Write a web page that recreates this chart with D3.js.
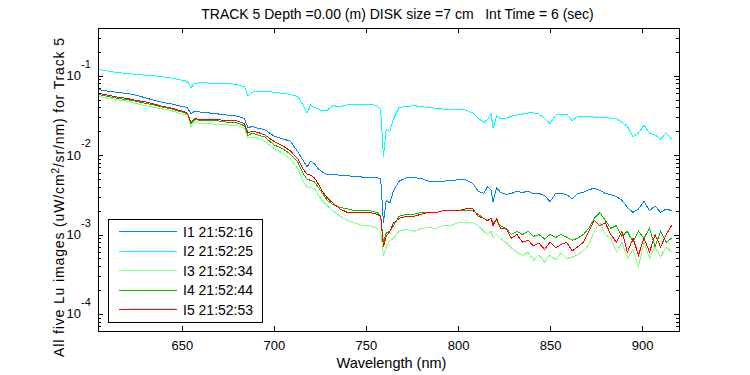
<!DOCTYPE html>
<html>
<head>
<meta charset="utf-8">
<script src="https://cdn.jsdelivr.net/npm/d3@7"></script>
<style>
  body { margin: 0; background: #fff; }
  svg text { font-family: Arial, "Liberation Sans", sans-serif; font-size: 13px; fill: #000; }
  .axis line { stroke: #000; shape-rendering: crispEdges; }
  .axis path.domain { display: none; }
  .spectrum { fill: none; stroke-width: 1; shape-rendering: crispEdges; }
</style>
</head>
<body>
<div id="chart"></div>
<script>
// wavelength grid (nm), shared by all five images
const wavelengths = [605, 610, 615, 620, 625, 630, 635, 640, 645, 650,
  653, 655, 657, 660, 665, 670, 675, 680, 684, 686, 688, 691, 695,
  700, 705, 709, 713, 716, 718, 720, 722, 724, 726, 729,
  732, 736, 740, 744, 748, 752, 756, 758, 759.5, 761, 763, 765, 768,
  772, 776, 780, 784, 788, 792, 796, 800, 804, 808, 811, 814, 816, 818, 819,
  821, 823, 826, 829, 832, 835, 838, 841, 844, 847, 850,
  853, 856, 859, 862, 865, 868, 871, 874, 877, 880,
  883, 886, 889, 892, 895, 898, 901, 904, 907, 910, 913, 916];

const seriesNames = ['I1 21:52:16', 'I2 21:52:25', 'I3 21:52:34', 'I4 21:52:44', 'I5 21:52:53'];
const seriesColors = ['#0080ff', '#00ffff', '#80ff80', '#00bf00', '#ff0000'];

const luI1 = [0.067, 0.064, 0.062, 0.060, 0.057, 0.053, 0.049, 0.046, 0.044, 0.041,
  0.040, 0.033, 0.036, 0.035, 0.034, 0.033, 0.032, 0.031, 0.029, 0.022, 0.023, 0.022, 0.021,
  0.0175, 0.016, 0.015, 0.011, 0.0085, 0.0071, 0.0084, 0.0078, 0.0068, 0.0062, 0.0057,
  0.0057, 0.0056, 0.0055, 0.0054, 0.0053, 0.0052, 0.0052, 0.0050, 0.0014, 0.0027, 0.0025, 0.0036, 0.0047,
  0.0052, 0.0052, 0.0051, 0.0047, 0.0046, 0.0047, 0.0048, 0.0049, 0.0049, 0.0044, 0.0035, 0.0033, 0.0040, 0.0036, 0.0026,
  0.0039, 0.0034, 0.0032, 0.0033, 0.0035, 0.0034, 0.0035, 0.0033, 0.0033, 0.0031, 0.0026,
  0.0033, 0.0033, 0.0032, 0.0028, 0.0033, 0.0034, 0.0037, 0.0038, 0.0036, 0.0033,
  0.0032, 0.0030, 0.0027, 0.0022, 0.0019, 0.0021, 0.0026, 0.0020, 0.0023, 0.0019, 0.0021, 0.0020];

const luI2 = [0.120, 0.115, 0.110, 0.107, 0.104, 0.102, 0.100, 0.097, 0.093, 0.088,
  0.085, 0.071, 0.080, 0.082, 0.081, 0.080, 0.080, 0.078, 0.073, 0.056, 0.062, 0.064, 0.064,
  0.062, 0.060, 0.058, 0.055, 0.042, 0.034, 0.043, 0.040, 0.038, 0.036, 0.037,
  0.042, 0.041, 0.043, 0.044, 0.044, 0.044, 0.042, 0.037, 0.0096, 0.021, 0.020, 0.029, 0.040,
  0.041, 0.042, 0.041, 0.040, 0.039, 0.038, 0.037, 0.038, 0.037, 0.034, 0.029, 0.026, 0.028, 0.033, 0.022,
  0.031, 0.029, 0.029, 0.031, 0.032, 0.033, 0.034, 0.034, 0.033, 0.029, 0.025,
  0.032, 0.033, 0.033, 0.027, 0.031, 0.031, 0.031, 0.030, 0.030, 0.030,
  0.029, 0.029, 0.026, 0.023, 0.017, 0.019, 0.024, 0.019, 0.018, 0.016, 0.019, 0.016];

const luI3 = [0.055, 0.052, 0.050, 0.048, 0.045, 0.042, 0.040, 0.038, 0.036, 0.033,
  0.032, 0.023, 0.026, 0.025, 0.025, 0.024, 0.024, 0.0235, 0.0218, 0.0166, 0.017, 0.0165, 0.015,
  0.0122, 0.0105, 0.0089, 0.0068, 0.0046, 0.0040, 0.0039, 0.0038, 0.0032, 0.0027, 0.0023,
  0.0020, 0.0017, 0.0015, 0.0014, 0.0013, 0.0013, 0.0012, 0.0011, 0.00054, 0.0007, 0.00083, 0.0009, 0.0011,
  0.00117, 0.0011, 0.0012, 0.00122, 0.0012, 0.0013, 0.0013, 0.0014, 0.0014, 0.0014, 0.0013, 0.0011, 0.0010, 0.0011, 0.0009,
  0.0010, 0.0009, 0.0008, 0.00068, 0.0006, 0.00055, 0.0006, 0.00048, 0.00055, 0.00045, 0.00055,
  0.00048, 0.00058, 0.0005, 0.00052, 0.00055, 0.00062, 0.00075, 0.0011, 0.0014, 0.0010,
  0.0009, 0.0006, 0.0008, 0.0005, 0.00065, 0.0004, 0.0008, 0.0005, 0.0007, 0.00052, 0.0007, 0.0006];

const luI4 = [0.058, 0.055, 0.052, 0.050, 0.048, 0.045, 0.043, 0.040, 0.038, 0.035,
  0.0335, 0.025, 0.028, 0.0275, 0.027, 0.027, 0.026, 0.0255, 0.0235, 0.0175, 0.019, 0.018, 0.017,
  0.0135, 0.012, 0.0103, 0.0082, 0.0058, 0.0050, 0.0048, 0.0046, 0.0040, 0.0034, 0.0027,
  0.0024, 0.0022, 0.0021, 0.0020, 0.0020, 0.0020, 0.0019, 0.0017, 0.00079, 0.00105, 0.0011, 0.0013, 0.0017,
  0.0018, 0.0018, 0.0019, 0.0019, 0.0019, 0.0020, 0.0020, 0.0020, 0.0020, 0.0020, 0.0018, 0.0016, 0.0015, 0.0016, 0.0014,
  0.0015, 0.0013, 0.0012, 0.0010, 0.0011, 0.0010, 0.0011, 0.00095, 0.0010, 0.00088, 0.0010,
  0.00092, 0.0010, 0.00093, 0.00085, 0.0009, 0.0010, 0.0012, 0.0016, 0.0019, 0.0015,
  0.0012, 0.0013, 0.00095, 0.0011, 0.0008, 0.0011, 0.0009, 0.0012, 0.0007, 0.0011, 0.0008, 0.0009];

const luI5 = [0.060, 0.057, 0.054, 0.052, 0.049, 0.047, 0.044, 0.041, 0.039, 0.036,
  0.034, 0.026, 0.029, 0.028, 0.028, 0.028, 0.027, 0.027, 0.025, 0.019, 0.020, 0.0195, 0.018,
  0.015, 0.013, 0.0113, 0.0090, 0.0066, 0.0058, 0.0056, 0.0052, 0.0044, 0.0036, 0.0029,
  0.0025, 0.0021, 0.0019, 0.0019, 0.0019, 0.0019, 0.0018, 0.0017, 0.00069, 0.00095, 0.0011, 0.0014, 0.0016,
  0.0017, 0.0017, 0.0018, 0.0019, 0.0019, 0.0020, 0.0020, 0.0020, 0.0021, 0.0021, 0.0017, 0.0016, 0.0015, 0.0016, 0.0013,
  0.0016, 0.0012, 0.0012, 0.0009, 0.0010, 0.0008, 0.00085, 0.00072, 0.00078, 0.00065, 0.00080,
  0.00068, 0.00075, 0.00080, 0.00062, 0.00070, 0.00080, 0.0011, 0.0015, 0.0013, 0.0014,
  0.0010, 0.0008, 0.0011, 0.0006, 0.0009, 0.00055, 0.0009, 0.0006, 0.0010, 0.0007, 0.0010, 0.0013];

const xTicks = [650, 700, 750, 800, 850, 900];
const yMajorTicks = [1e-4, 1e-3, 1e-2, 1e-1];

const titleText = 'TRACK 5 Depth =0.00 (m) DISK size =7 cm   Int Time = 6 (sec)';
const xLabelText = 'Wavelength (nm)';

const allSeries = [luI1, luI2, luI3, luI4, luI5];

const width = 750;
const height = 375;
const margin = { top: 28, right: 71, bottom: 44, left: 98 };

const svg = d3.select('#chart').append('svg')
  .attr('width', width)
  .attr('height', height);

const x = d3.scaleLinear()
  .domain([604.5, 920])
  .range([margin.left, width - margin.right]);

const y = d3.scaleLog()
  .domain([6.1e-5, 0.4])
  .range([height - margin.bottom, margin.top]);

// minor ticks 2..9 of every decade inside the domain
const yMinorTicks = [];
[-5, -4, -3, -2, -1].forEach((e) => {
  for (let m = 2; m <= 9; m++) {
    const v = m * Math.pow(10, e);
    if (v >= y.domain()[0] && v <= y.domain()[1]) yMinorTicks.push(v);
  }
});

svg.append('clipPath')
  .attr('id', 'plot-clip')
  .append('rect')
  .attr('x', margin.left)
  .attr('y', margin.top)
  .attr('width', width - margin.left - margin.right)
  .attr('height', height - margin.top - margin.bottom);

const line = d3.line()
  .x((d, i) => x(wavelengths[i]))
  .y((d) => y(d));

svg.append('g')
  .attr('clip-path', 'url(#plot-clip)')
  .selectAll('path.spectrum')
  .data(allSeries)
  .join('path')
  .attr('class', 'spectrum')
  .attr('stroke', (d, i) => seriesColors[i])
  .attr('d', line);

// axes, ticks pointing inward on all four sides
const bottom = height - margin.bottom;
const right = width - margin.right;

svg.append('g')
  .attr('class', 'axis')
  .attr('transform', `translate(0,${bottom})`)
  .call(d3.axisBottom(x).tickValues(xTicks).tickSizeInner(-5).tickSizeOuter(0).tickPadding(10))
  .call((g) => g.selectAll('text').attr('font-size', 13).attr('font-family', null));

svg.append('g')
  .attr('class', 'axis')
  .attr('transform', `translate(0,${margin.top})`)
  .call(d3.axisTop(x).tickValues(xTicks).tickSizeInner(-5).tickSizeOuter(0).tickFormat(''));

[[d3.axisLeft, margin.left], [d3.axisRight, right]].forEach(([axisFn, pos]) => {
  svg.append('g')
    .attr('class', 'axis')
    .attr('transform', `translate(${pos},0)`)
    .call(axisFn(y).tickValues(yMajorTicks).tickSizeInner(-5).tickSizeOuter(0).tickFormat(''));
  svg.append('g')
    .attr('class', 'axis')
    .attr('transform', `translate(${pos},0)`)
    .call(axisFn(y).tickValues(yMinorTicks).tickSizeInner(-3).tickSizeOuter(0).tickFormat(''));
});

svg.append('rect')
  .attr('x', margin.left + 0.5)
  .attr('y', margin.top + 0.5)
  .attr('width', right - margin.left)
  .attr('height', bottom - margin.top)
  .attr('fill', 'none')
  .attr('stroke', '#000')
  .attr('shape-rendering', 'crispEdges');

// y tick labels as 10^n
const yLabels = svg.append('g');
yMajorTicks.forEach((v) => {
  const ty = y(v);
  yLabels.append('text')
    .attr('x', 81)
    .attr('y', ty + 4.5)
    .attr('text-anchor', 'end')
    .text('10');
  yLabels.append('text')
    .attr('x', 81)
    .attr('y', ty - 8)
    .style('font-size', '11px')
    .text(`-${Math.round(-Math.log10(v))}`);
});

// title and axis labels
svg.append('text')
  .attr('x', 397.5)
  .attr('y', 18.5)
  .attr('text-anchor', 'middle')
  .style('white-space', 'pre')
  .style('font-size', '14px')
  .text(titleText);

svg.append('text')
  .attr('x', 391.5)
  .attr('y', 368)
  .attr('text-anchor', 'middle')
  .style('font-size', '14.5px')
  .text(xLabelText);

const yLabel = svg.append('text')
  .attr('transform', 'translate(64,197.5) rotate(-90)')
  .attr('text-anchor', 'middle')
  .attr('textLength', 319)
  .attr('lengthAdjust', 'spacing')
  .style('font-size', '14px');
yLabel.append('tspan').text('All five Lu images (uW/cm');
yLabel.append('tspan').attr('dy', -5).style('font-size', '10px').text('2');
yLabel.append('tspan').attr('dy', 5).text('/sr/nm) for Track 5');

// legend
const legend = svg.append('g');
legend.append('rect')
  .attr('x', 108.5)
  .attr('y', 219.5)
  .attr('width', 154)
  .attr('height', 103)
  .attr('fill', '#fff')
  .attr('stroke', '#000')
  .attr('shape-rendering', 'crispEdges');

const rows = legend.selectAll('g.entry')
  .data(seriesNames)
  .join('g')
  .attr('class', 'entry')
  .attr('transform', (d, i) => `translate(0,${231.5 + i * 19.5})`);

rows.append('line')
  .attr('x1', 119)
  .attr('x2', 177)
  .attr('stroke', (d, i) => seriesColors[i])
  .attr('shape-rendering', 'crispEdges');

rows.append('text')
  .attr('x', 183)
  .attr('y', 5)
  .style('font-size', '14px')
  .text((d) => d);
</script>
</body>
</html>
